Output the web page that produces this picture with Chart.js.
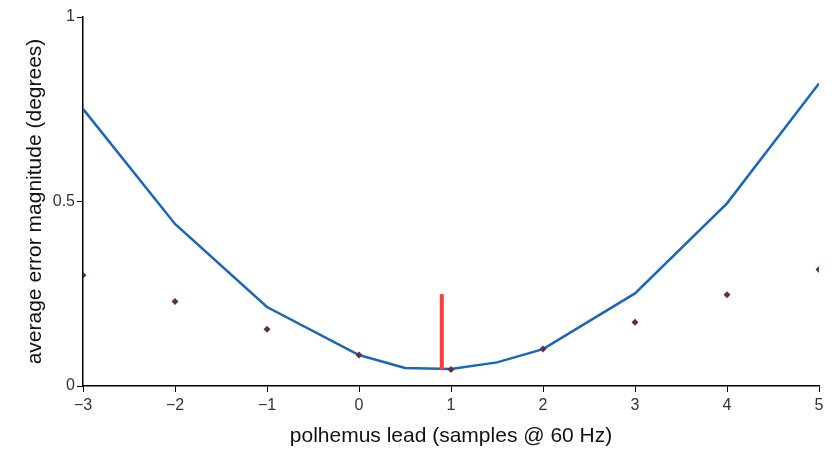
<!DOCTYPE html>
<html lang="en">
<head>
    <meta charset="UTF-8">
    <title>polhemus lead</title>
    <script src="https://cdn.jsdelivr.net/npm/chart.js"></script>
    <style>
        body {
          margin: 0;
          padding: 0;
          background: #fff;
        }
        .wrap {
          width: 836px;
          height: 457px;
        }
    </style>
</head>
<body>
<div class="wrap">
    <canvas id="leadChart"></canvas>
</div>

<script>
    // error curve (line)
    const curveX = [-3, -2, -1, 0, 0.5, 1, 1.5, 2, 3, 4, 5];
    const curveY = [0.751, 0.439, 0.214, 0.084, 0.049, 0.046, 0.064, 0.100, 0.251, 0.495, 0.820];

    // measured points (diamonds)
    const pointX = [-3, -2, -1, 0, 1, 2, 3, 4, 5];
    const pointY = [0.300, 0.229, 0.154, 0.084, 0.045, 0.100, 0.173, 0.247, 0.316];

    // red marker bar
    const barX = [0.9, 0.9];
    const barY = [0.043, 0.249];

    const xTicks = [-3, -2, -1, 0, 1, 2, 3, 4, 5];
    const yTicks = [0, 0.5, 1];

    const zip = (xs, ys) => xs.map((x, i) => ({x: x, y: ys[i]}));

    const font = "'Liberation Sans', Arial, sans-serif";

    new Chart(document.getElementById('leadChart'), {
      type: 'scatter',
      data: {
        datasets: [
          {
            type: 'line',
            data: zip(curveX, curveY),
            borderColor: '#1a66b8',
            borderWidth: 2.5,
            pointRadius: 0,
            tension: 0,
            order: 3
          },
          {
            data: zip(pointX, pointY),
            pointStyle: 'rectRot',
            pointRadius: 3.5,
            backgroundColor: '#5a3347',
            borderColor: '#5a3347',
            borderWidth: 0,
            order: 1
          },
          {
            type: 'line',
            data: zip(barX, barY),
            borderColor: '#ff3b3b',
            borderWidth: 4,
            borderCapStyle: 'butt',
            pointRadius: 0,
            order: 2
          }
        ]
      },
      options: {
        responsive: true,
        maintainAspectRatio: false,
        animation: false,
        layout: {padding: {top: 17, right: 17, left: 0, bottom: 0}},
        plugins: {
          legend: {display: false},
          tooltip: {enabled: false}
        },
        scales: {
          x: {
            type: 'linear',
            min: -3,
            max: 5,
            afterFit: s => { s.height = 71; },
            afterBuildTicks: s => { s.ticks = xTicks.map(v => ({value: v})); },
            grid: {
              display: true,
              drawOnChartArea: false,
              drawTicks: true,
              tickLength: 6,
              color: '#000'
            },
            border: {color: '#000', width: 1.5},
            ticks: {
              color: '#333',
              padding: 4,
              font: {family: font, size: 16},
              callback: v => v < 0 ? '\u2212' + Math.abs(v) : String(v)
            },
            title: {
              display: true,
              text: 'polhemus lead (samples @ 60 Hz)',
              color: '#111',
              font: {family: font, size: 21},
              padding: {top: 0, bottom: 8}
            }
          },
          y: {
            min: 0,
            max: 1,
            afterFit: s => { s.width = 83; },
            afterBuildTicks: s => { s.ticks = yTicks.map(v => ({value: v})); },
            grid: {
              display: true,
              drawOnChartArea: false,
              drawTicks: true,
              tickLength: 6,
              color: '#000'
            },
            border: {color: '#000', width: 1.5},
            ticks: {
              color: '#333',
              padding: 2,
              font: {family: font, size: 16},
              callback: v => String(v)
            },
            title: {
              display: true,
              text: 'average error magnitude (degrees)',
              color: '#111',
              font: {family: font, size: 21},
              padding: {top: 23, bottom: 0}
            }
          }
        }
      }
    });
</script>
</body>
</html>
